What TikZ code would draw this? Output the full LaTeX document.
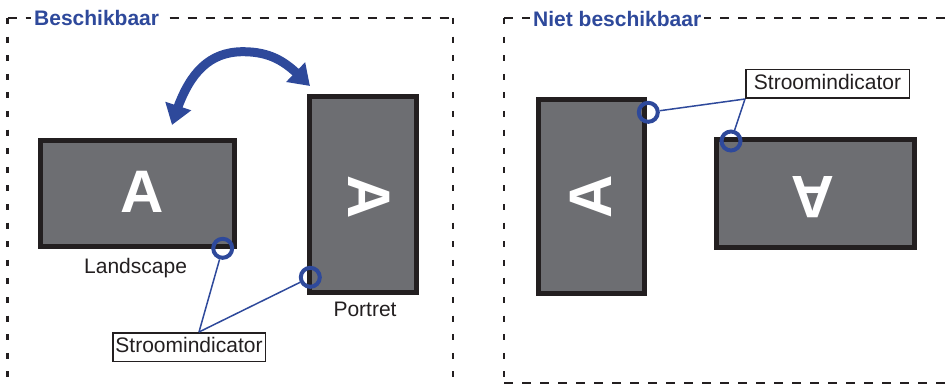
\documentclass[tikz,border=0pt]{standalone}
\usepackage{fontspec}
\setmainfont{Liberation Sans}
\usetikzlibrary{arrows.meta,bending}
\definecolor{ibl}{RGB}{46,73,155}
\definecolor{mgray}{RGB}{109,110,114}
\definecolor{mblack}{RGB}{35,31,32}
\begin{document}
\begin{tikzpicture}[x=1pt,y=1pt,
  hdash/.style={line width=2.2pt, draw=mblack, dash pattern=on 9pt off 9pt},
  vdash/.style={line width=2.2pt, draw=mblack, dash pattern=on 6pt off 12.6pt},
  ptitle/.style={fill=white, text=ibl, font=\fontsize{21}{25}\selectfont\bfseries, inner xsep=3pt, inner ysep=0pt, anchor=base west},
  monitor/.style={draw=mblack, fill=mgray, line width=5pt, inner sep=0pt},
  letter/.style={text=white, font=\fontsize{60}{70}\selectfont\bfseries, inner sep=0pt},
  led/.style={circle, draw=ibl, line width=4pt, minimum size=19pt, inner sep=0pt},
  lead/.style={draw=ibl, line width=1.5pt},
  mlabel/.style={font=\fontsize{21}{25}\selectfont, text=mblack, inner sep=0pt, anchor=base west},
  calloutbox/.style={draw=mblack, line width=1.5pt, fill=white, text=mblack, font=\fontsize{21}{25}\selectfont, inner sep=0pt, text height=15.3pt, text depth=4pt, minimum height=28.5pt},
  bigarrow/.style={draw=ibl, line width=9pt, {Triangle[length=20pt,width=26pt]}-{Triangle[length=20pt,width=26pt]}},
]
\useasboundingbox (0,0) rectangle (947,-385);
% frames
\draw[hdash] (7.5,-18) -- (453,-18);
\draw[vdash] (7.5,-18) -- (7.5,-395);
\draw[vdash] (453,-18) -- (453,-395);
\draw[hdash] (504,-18) -- (960,-18);
\draw[vdash] (504,-18) -- (504,-383);
\draw[hdash] (504,-383) -- (960,-383);
% titles
\node[ptitle] (t1) at (31,-26) {Beschikbaar};
\node[ptitle] (t2) at (530,-26.5) {Niet beschikbaar};
% monitors
\node[monitor, minimum width=194pt, minimum height=106pt] (m1) at (137.5,-193.5) {};
\node[monitor, minimum width=107pt, minimum height=196pt] (m2) at (363,-194.5) {};
\node[monitor, minimum width=106pt, minimum height=194pt] (m3) at (591.5,-196.5) {};
\node[monitor, minimum width=198pt, minimum height=108pt] (m4) at (815.5,-193.5) {};
% letters
\node[letter] (a1) at (142,-191.7) {A};
\node[letter, rotate=-90] (a2) at (369.3,-196.7) {A};
\node[letter, rotate=90] (a3) at (591,-196.7) {A};
\node[letter, rotate=180] (a4) at (813.3,-196.7) {A};
% callouts
\node[calloutbox, minimum width=152.5pt] (s1) at (189,-347) {Stroomindicator};
\node[calloutbox, minimum width=163.5pt] (s2) at (827.5,-84) {Stroomindicator};
% leds
\node[led] (c1) at (222.7,-248.3) {};
\node[led] (c2) at (310.3,-277.3) {};
\node[led] (c3) at (648.3,-112.3) {};
\node[led] (c4) at (731,-141) {};
% leads
\draw[lead] ([xshift=10pt]s1.north) -- (c1);
\draw[lead] ([xshift=10pt]s1.north) -- (c2);
\draw[lead] (s2.south west) -- (c3);
\draw[lead] (s2.south west) -- (c4);
% labels
\node[mlabel] (l1) at (84,-273.3) {Landscape};
\node[mlabel] (l2) at (333.3,-316.7) {Portret};
% rotation arrow
\coordinate (arS) at (172,-125);
\coordinate (arP) at (243,-51.7);
\coordinate (arE) at (310,-86);
\draw[bigarrow] (arS) .. controls (184.6,-81.8) and (203,-51.7) .. (arP)
  .. controls (278,-51.7) and (292,-68.5) .. (arE);
\end{tikzpicture}
\end{document}
